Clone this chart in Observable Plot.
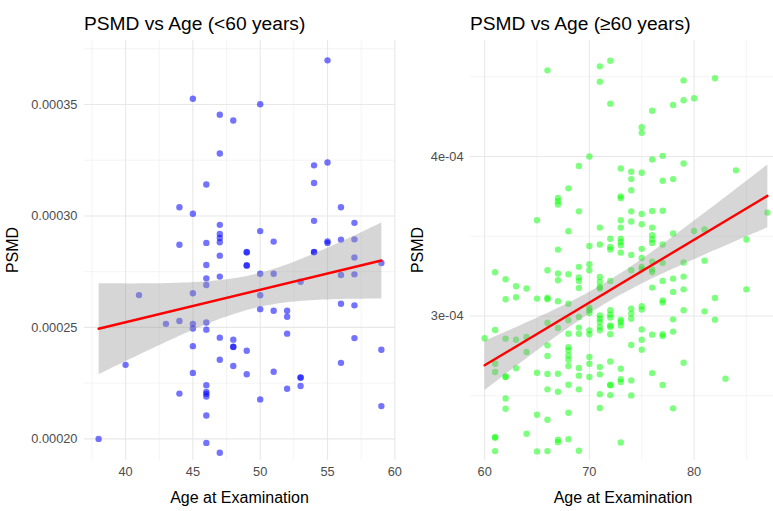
<!DOCTYPE html>
<html><head><meta charset="utf-8">
<script src="https://cdn.jsdelivr.net/npm/d3@7"></script>
<script src="https://cdn.jsdelivr.net/npm/@observablehq/plot@0.6"></script>
<style>
html,body{margin:0;padding:0;background:#fff;}
#root{position:relative;width:773px;height:511px;overflow:hidden;background:#fff;font-family:"Liberation Sans",Arial,Helvetica,sans-serif;}
.t{position:absolute;line-height:1;white-space:nowrap;color:#000;}
.plot{position:absolute;top:0;}
</style></head><body><div id="root"></div>
<script>
// ---------- Data: ages < 60 ----------
const leftAge = [
 55,45,50,47,48,47,54,55,46,54,
 44,56,45,47,54,57,50,47,47,47,
 44,46,51,55,55,56,57,47,49,49,
 54,54,57,46,49,49,59,50,51,46,
 47,53,56,57,46,41,45,50,56,57,
 50,51,52,52,43,44,45,46,45,46,
 52,47,48,57,45,48,48,49,59,40,
 47,48,56,45,49,51,53,53,46,44,
 46,46,46,53,52,50,59,46,38,46,
 47
];
const leftPsmd = [
 0.0003698,0.0003526,0.0003501,0.0003454,0.0003428,0.0003280,0.0003227,0.0003240,0.0003141,0.0003148,
 0.0003039,0.0003039,0.0003010,0.0002960,0.0002978,0.0002969,0.0002932,0.0002919,0.0002901,0.0002882,
 0.0002871,0.0002879,0.0002885,0.0002886,0.0002879,0.0002894,0.0002895,0.0002822,0.0002838,0.0002836,
 0.0002838,0.0002837,0.0002814,0.0002780,0.0002779,0.0002777,0.0002789,0.0002741,0.0002741,0.0002720,
 0.0002728,0.0002705,0.0002735,0.0002738,0.0002690,0.0002645,0.0002653,0.0002644,0.0002606,0.0002599,
 0.0002582,0.0002575,0.0002575,0.0002548,0.0002516,0.0002529,0.0002516,0.0002522,0.0002495,0.0002490,
 0.0002472,0.0002454,0.0002445,0.0002452,0.0002416,0.0002413,0.0002412,0.0002395,0.0002400,0.0002332,
 0.0002355,0.0002327,0.0002341,0.0002296,0.0002290,0.0002301,0.0002276,0.0002274,0.0002241,0.0002203,
 0.0002211,0.0002202,0.0002190,0.0002237,0.0002225,0.0002177,0.0002147,0.0002105,0.0002000,0.0001982,
 0.0001938
];

// ---------- Data: ages >= 60 ----------
const rightAge = [
 66,71,72,71,72,79,82,79,80,78,
 76,75,75,70,69,73,74,75,76,77,
 79,84,74,77,78,68,74,67,67,67,
 73,73,69,74,75,76,77,87,65,73,
 68,71,73,74,75,76,80,81,73,73,
 73,73,72,72,72,76,76,76,78,85,
 67,70,71,74,75,75,77,81,
 61,62,63,64,62,63,65,66,66,66,
 67,67,68,67,69,69,69,69,70,70,
 71,71,71,71,72,74,75,75,76,76,
 76,76,77,77,77,77,78,78,79,79,
 79,79,82,81,82,85,68,70,70,70,
 71,71,71,71,71,72,72,72,72,72,
 73,73,73,74,74,74,75,75,66,67,
 68,69,60,61,62,63,64,64,66,66,
 68,68,68,68,68,68,69,69,70,70,
 72,75,75,75,76,77,77,78,78,74,
 61,61,62,62,63,65,66,67,68,69,
 69,69,70,70,70,71,71,71,71,72,
 72,72,72,73,73,73,74,74,76,77,
 79,83,66,67,62,62,65,66,68,78,
 61,61,64,67,67,68,61,65,66,69,
 73
];
const rightPsmd = [
 0.0004540,0.0004565,0.0004600,0.0004469,0.0004331,0.0004477,0.0004490,0.0004352,0.0004365,0.0004323,
 0.0004287,0.0004183,0.0004148,0.0004000,0.0003940,0.0003925,0.0003904,0.0003898,0.0003981,0.0004004,
 0.0003956,0.0003913,0.0003858,0.0003848,0.0003858,0.0003800,0.0003788,0.0003740,0.0003719,0.0003699,
 0.0003750,0.0003738,0.0003656,0.0003656,0.0003640,0.0003658,0.0003660,0.0003648,0.0003600,0.0003600,
 0.0003531,0.0003554,0.0003554,0.0003592,0.0003575,0.0003554,0.0003533,0.0003542,0.0003485,0.0003464,
 0.0003444,0.0003397,0.0003484,0.0003433,0.0003416,0.0003506,0.0003479,0.0003458,0.0003517,0.0003479,
 0.0003416,0.0003439,0.0003448,0.0003383,0.0003421,0.0003364,0.0003448,0.0003347,
 0.0003274,0.0003230,0.0003186,0.0003172,0.0003105,0.0003117,0.0003109,0.0003287,0.0003115,0.0003105,
 0.0003266,0.0003224,0.0003262,0.0003092,0.0003308,0.0003241,0.0003220,0.0003176,0.0003324,0.0003287,
 0.0003245,0.0003213,0.0003182,0.0003172,0.0003220,0.0003287,0.0003308,0.0003291,0.0003341,0.0003291,
 0.0003276,0.0003178,0.0003333,0.0003220,0.0003098,0.0003084,0.0003234,0.0003151,0.0003335,0.0003247,
 0.0003167,0.0003036,0.0003113,0.0003029,0.0002977,0.0003167,0.0003077,0.0003052,0.0003036,0.0003019,
 0.0003004,0.0002983,0.0002962,0.0002931,0.0002910,0.0003036,0.0003010,0.0002990,0.0002941,0.0002931,
 0.0002977,0.0002962,0.0002941,0.0003046,0.0003015,0.0002983,0.0003061,0.0003040,0.0002958,0.0002925,
 0.0002973,0.0002994,0.0002860,0.0002912,0.0002858,0.0002851,0.0002868,0.0002774,0.0002816,0.0002749,
 0.0002889,0.0002805,0.0002785,0.0002753,0.0002726,0.0002686,0.0002927,0.0002889,0.0002910,0.0002885,
 0.0002885,0.0002916,0.0002851,0.0002789,0.0002883,0.0002885,0.0002874,0.0002979,0.0002902,0.0002818,
 0.0002701,0.0002649,0.0002621,0.0002617,0.0002672,0.0002644,0.0002636,0.0002638,0.0002569,0.0002674,
 0.0002626,0.0002540,0.0002743,0.0002701,0.0002617,0.0002680,0.0002634,0.0002510,0.0002423,0.0002715,
 0.0002569,0.0002565,0.0002504,0.0002669,0.0002603,0.0002586,0.0002596,0.0002502,0.0002642,0.0002567,
 0.0002707,0.0002607,0.0002540,0.0002525,0.0002483,0.0002418,0.0002381,0.0002349,0.0002393,0.0002421,
 0.0002241,0.0002236,0.0002262,0.0002224,0.0002209,0.0002228,0.0002153,0.0002151,0.0002153,0.0002155,
 0.0002207
];

// ---------- Axis ticks / labels / ranges ----------
const leftXTicks = [40, 45, 50, 55, 60];
const leftXMinor = [37.5, 42.5, 47.5, 52.5, 57.5];
const leftYTicks = [0.00020, 0.00025, 0.00030, 0.00035];
const leftYMinor = [0.000225, 0.000275, 0.000325, 0.000375];
const leftYDomain = [0.0001903, 0.0003787];
const rightXTicks = [60, 70, 80];
const rightXMinor = [65, 75, 85];
const rightYTicks = [0.0003, 0.0004];
const rightYMinor = [0.00025, 0.00035, 0.00045];
const rightYDomain = [0.0002094, 0.0004727];

const titles = ["PSMD vs Age (<60 years)", "PSMD vs Age (\u226560 years)"];
const xTitle = "Age at Examination";
const yTitle = "PSMD";

// ---------- helpers ----------
function expand(vals) {
  const [a, b] = d3.extent(vals);
  const p = (b - a) * 0.05;
  return [a - p, b + p];
}
const sciFmt = v => v.toExponential(0).replace(/e([+-])(\d)$/, (m, s, d) => "e" + s + "0" + d);

function panel(ages, values, cfg) {
  const data = ages.map((a, i) => ({age: a, psmd: values[i]}));
  const grid = (fn, t, w, c) => fn(t, {stroke: c, strokeOpacity: 1, strokeWidth: w});
  return Plot.plot({
    width: cfg.width, height: 511,
    marginLeft: cfg.marginLeft, marginRight: cfg.marginRight, marginTop: 40, marginBottom: 51,
    style: {fontFamily: "'Liberation Sans', Arial, sans-serif", fontSize: "12.8px", color: "#4d4d4d", background: "transparent", overflow: "visible"},
    x: {domain: expand(ages)},
    y: {domain: cfg.yDomain},
    marks: [
      grid(Plot.gridX, cfg.xMinor, 0.6, "#ededed"),
      grid(Plot.gridY, cfg.yMinor, 0.6, "#ededed"),
      grid(Plot.gridX, cfg.xTicks, 1.1, "#e8e8e8"),
      grid(Plot.gridY, cfg.yTicks, 1.1, "#e8e8e8"),
      Plot.dot(data, {x: "age", y: "psmd", r: 3.2, fill: cfg.color, fillOpacity: cfg.opacity}),
      Plot.linearRegressionY(data, {x: "age", y: "psmd", ci: 0.95, stroke: "#ff0000", strokeWidth: 2.4, fill: "#999999", fillOpacity: 0.4}),
      Plot.axisX(cfg.xTicks, {tickSize: 0, tickPadding: 6, label: null}),
      Plot.axisY(cfg.yTicks, {tickSize: 0, tickPadding: 7, label: null, tickFormat: cfg.yFormat})
    ]
  });
}

const root = document.getElementById("root");

const left = panel(leftAge, leftPsmd, {
  width: 400, marginLeft: 84, marginRight: 5, color: "#0000ff", opacity: 0.55, yDomain: leftYDomain,
  xTicks: leftXTicks, xMinor: leftXMinor, yTicks: leftYTicks, yMinor: leftYMinor, yFormat: d3.format(".5f")
});
left.classList.add("plot"); left.style.left = "0px";
root.appendChild(left);

const right = panel(rightAge, rightPsmd, {
  width: 381, marginLeft: 70, marginRight: 0, color: "#00ff00", opacity: 0.5, yDomain: rightYDomain,
  xTicks: rightXTicks, xMinor: rightXMinor, yTicks: rightYTicks, yMinor: rightYMinor, yFormat: sciFmt
});
right.classList.add("plot"); right.style.left = "400px";
root.appendChild(right);

function addText(txt, x, y, size, opts = {}) {
  const d = document.createElement("div");
  d.className = "t";
  d.textContent = txt;
  d.style.fontSize = size + "px";
  d.style.left = x + "px";
  d.style.top = y + "px";
  if (opts.transform) d.style.transform = opts.transform;
  root.appendChild(d);
  return d;
}
// titles (left aligned to panel)
addText(titles[0], 84, 13.7, 19.2);
addText(titles[1], 470, 13.7, 19.2);
// x-axis titles (centred under panels)
addText(xTitle, 239.5, 489.5, 16, {transform: "translateX(-50%)"});
addText(xTitle, 623, 489.5, 16, {transform: "translateX(-50%)"});
// y-axis titles (rotated)
addText(yTitle, 13, 250, 16, {transform: "translate(-50%,-50%) rotate(-90deg)"});
addText(yTitle, 418, 250, 16, {transform: "translate(-50%,-50%) rotate(-90deg)"});
</script></body></html>
